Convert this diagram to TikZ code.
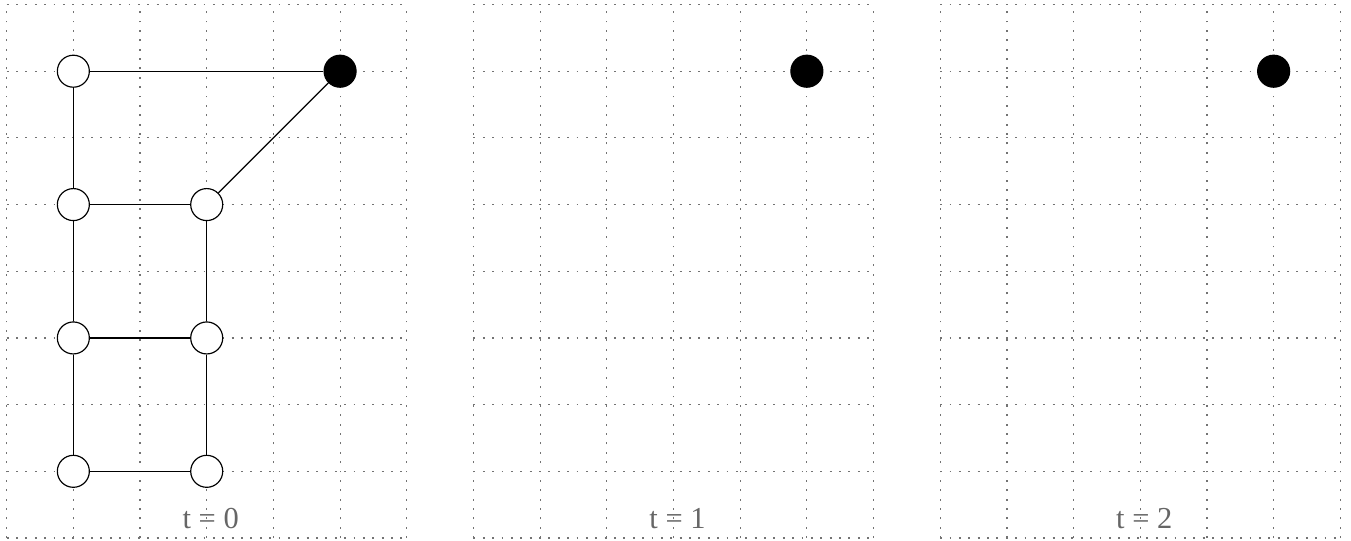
\documentclass[tikz,border=0pt]{standalone}
\usepackage{fontspec}
\setmainfont{Liberation Serif}
\usetikzlibrary{positioning}

\begin{document}
\begin{tikzpicture}[
  gridline/.style={draw=black!55, line width=0.5pt, dash pattern=on 0.8pt off 3.2pt},
  vertex/.style={draw, circle, fill=white, minimum size=0.48cm, inner sep=0pt, line width=0.5pt},
  sink/.style={vertex, fill=black},
  edge/.style={line width=0.5pt},
  tlabel/.style={text=black!60, anchor=base, font=\fontsize{13}{15}\selectfont},
  ]
  \useasboundingbox (-0.1,-0.03) rectangle (20.16,8.068);

  % one grid and one time label per snapshot
  \foreach \ox/\t in {0/0,7/1,14/2} {
    \draw[gridline] (\ox,0) grid (\ox+6,8);
    \node[tlabel] (time\t) at (\ox+3.06,0.135) {t = \t};
  }

  % t = 0
  \node[vertex] (a1) at (1,7) {};
  \node[vertex] (a2) at (1,5) {};
  \node[vertex] (a3) at (1,3) {};
  \node[vertex] (a4) at (1,1) {};
  \node[vertex] (b2) at (3,5) {};
  \node[vertex] (b3) at (3,3) {};
  \node[vertex] (b4) at (3,1) {};
  \node[sink] (s0) at (5,7) {};

  \draw[edge] (a1) -- (s0);
  \draw[edge] (s0) -- (b2);
  \draw[edge] (a1) -- (a2);
  \draw[edge] (a2) -- (a3);
  \draw[edge] (a3) -- (a4);
  \draw[edge] (b2) -- (b3);
  \draw[edge] (b3) -- (b4);
  \draw[edge] (a2) -- (b2);
  \draw[edge] (a3) -- (b3);
  \draw[edge] (a4) -- (b4);

  % t = 1, t = 2
  \node[sink] (s1) at (12,7) {};
  \node[sink] (s2) at (19,7) {};
\end{tikzpicture}
\end{document}
